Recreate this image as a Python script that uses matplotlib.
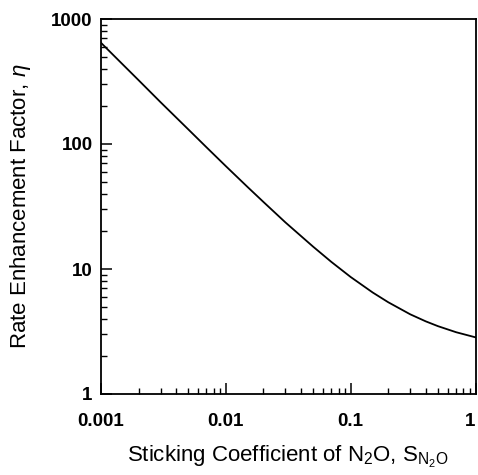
import matplotlib
matplotlib.use("Agg")
from matplotlib import pyplot as plt
from matplotlib.ticker import FixedLocator, LogLocator, NullFormatter

# curve (log-log)
sticking = [0.001, 0.0015, 0.002, 0.003, 0.005, 0.007, 0.01, 0.015, 0.02, 0.03,
			0.05, 0.07, 0.1, 0.15, 0.2, 0.3, 0.4, 0.5, 0.7, 1.0]
enhancement = [645, 431, 324, 216, 131, 94.1, 66.5, 45.1, 34.4, 23.6,
			   15.1, 11.4, 8.63, 6.49, 5.42, 4.34, 3.81, 3.49, 3.12, 2.84]

x_ticks = [0.001, 0.01, 0.1, 1]
x_tick_labels = ["0.001", "0.01", "0.1", "1"]
y_ticks = [1, 10, 100, 1000]
y_tick_labels = ["1", "10", "100", "1000"]

plt.rcParams["font.family"] = ["Liberation Sans", "DejaVu Sans"]
plt.rcParams["mathtext.fontset"] = "custom"
plt.rcParams["mathtext.rm"] = "Liberation Sans"
plt.rcParams["mathtext.it"] = "Liberation Sans:italic"

fig = plt.figure(figsize=(4.78, 4.75), dpi=100)
ax = fig.add_axes([101 / 478, 1 - 394 / 475, 374.5 / 478, 375 / 475])

ax.plot(sticking, enhancement, color="black", linewidth=1.3)

ax.set_xscale("log")
ax.set_yscale("log")
ax.set_xlim(0.001, 1)
ax.set_ylim(1, 1000)

ax.xaxis.set_major_locator(FixedLocator(x_ticks))
ax.yaxis.set_major_locator(FixedLocator(y_ticks))
ax.set_xticklabels(x_tick_labels, fontweight="bold", fontsize=13.5)
ax.set_yticklabels(y_tick_labels, fontweight="bold", fontsize=13.5)
# last x label sits flush against the right edge, as in the original
ax.get_xticklabels()[-1].set_horizontalalignment("right")
ax.xaxis.set_minor_locator(LogLocator(base=10, subs=range(2, 10)))
ax.yaxis.set_minor_locator(LogLocator(base=10, subs=range(2, 10)))
ax.xaxis.set_minor_formatter(NullFormatter())
ax.yaxis.set_minor_formatter(NullFormatter())

ax.tick_params(which="major", direction="in", length=8, width=1.1)
ax.tick_params(which="minor", direction="in", length=4, width=1.0)
ax.tick_params(axis="x", which="major", pad=14)
ax.tick_params(axis="y", which="major", pad=6)
for spine in ax.spines.values():
	spine.set_linewidth(1.3)

ax.set_ylabel(r"Rate Enhancement Factor, $\mathit{\eta}$", fontsize=16, labelpad=13)
ax.set_xlabel(r"Sticking Coefficient of N$_2$O, S$_{\mathrm{N_2O}}$", fontsize=16, labelpad=10)

fig.savefig("out.png", dpi=100)
